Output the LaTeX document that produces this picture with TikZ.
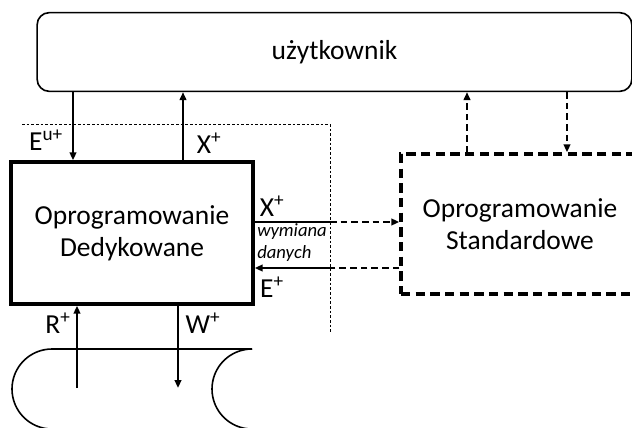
\documentclass[tikz,border=0pt]{standalone}
\usepackage{fontspec}
\setmainfont{Carlito}
\usetikzlibrary{arrows.meta}

\tikzset{
  flow/.style={line width=1.5pt,-{Triangle[length=6pt,width=5pt]}},
  dflow/.style={flow,dash pattern=on 5pt off 3pt},
  lab/.style={font=\fontsize{20.6}{24}\selectfont,inner sep=0pt},
  small/.style={font=\fontsize{14}{17}\selectfont\itshape,inner sep=0pt,anchor=west},
}

\begin{document}
\begin{tikzpicture}[x=0.75pt,y=-0.75pt]
\useasboundingbox (0,0) rectangle (632,428);
\clip (0,0) rectangle (632,428);

% boxes
\node[draw,line width=1.2pt,rounded corners=9pt,minimum width=446pt,minimum height=59pt,lab]
  (user) at (334.5,52) {użytkownik};
\node[draw,line width=2.6pt,minimum width=181.5pt,minimum height=106.5pt,lab,align=center]
  (ded) at (132,233) {Oprogramowanie\\Dedykowane};
\node[draw,line width=2.6pt,dash pattern=on 7pt off 4pt,minimum width=178.5pt,minimum height=105pt,lab,align=center]
  (std) at (520,224) {Oprogramowanie\\Standardowe};

% border line
\coordinate (g1) at (22,124);
\coordinate (g2) at (330,124);
\coordinate (g3) at (330,332);
\draw[line width=0.6pt,dash pattern=on 2pt off 1.5pt] (g1) -- (g2) -- (g3);

% user <-> dedicated
\coordinate (eu) at (73,0);
\coordinate (xu) at (183,0);
\draw[flow] (user.south -| eu) -- (ded.north -| eu);
\draw[flow] (ded.north -| xu) -- (user.south -| xu);
\node[lab] (eulab) at (46,140) {E\textsuperscript{u+}};
\node[lab] (xlab) at (209,143) {X\textsuperscript{+}};

% user <-> standard
\coordinate (su) at (467,0);
\coordinate (sd) at (567,0);
\draw[dflow] (std.north -| su) -- (user.south -| su);
\draw[dflow] (user.south -| sd) -- (std.north -| sd);

% data exchange
\coordinate (xm) at (330,222);
\coordinate (em) at (330,268);
\draw[line width=1.5pt] (ded.east |- xm) -- (xm);
\draw[dflow] (xm) -- (std.west |- xm);
\draw[line width=1.5pt,dash pattern=on 5pt off 3pt] (std.west |- em) -- (em);
\draw[flow] (em) -- (ded.east |- em);
\node[lab] (xr) at (272,206) {X\textsuperscript{+}};
\node[small] (wym) at (257,232) {wymiana};
\node[small] (dan) at (257,254) {danych};
\node[lab] (er) at (272,287) {E\textsuperscript{+}};

% storage
\draw[line width=1.2pt] (252,349) -- (52,349) arc[start angle=270,end angle=90,radius=40];
\draw[line width=1.2pt] (252,349) arc[start angle=270,end angle=90,radius=40];
\coordinate (rb) at (77,388);
\coordinate (wb) at (178,388);
\draw[flow] (rb) -- (ded.south -| rb);
\draw[flow] (ded.south -| wb) -- (wb);
\node[lab] (rl) at (58,323) {R\textsuperscript{+}};
\node[lab] (wl) at (203,323) {W\textsuperscript{+}};

\end{tikzpicture}
\end{document}
